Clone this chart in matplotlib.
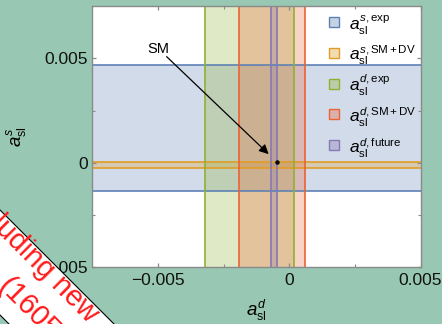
import matplotlib
matplotlib.use("Agg")
import matplotlib.pyplot as plt
import matplotlib._mathtext as _mt
from matplotlib.patches import Polygon, Rectangle
from matplotlib.ticker import FixedLocator

_mt.SHRINK_FACTOR = 0.66

# ---------------- data ----------------
as_exp = [-0.00136, 0.00469]      # a_sl^s experimental band (horizontal)
as_smdv = [-0.00025, 0.00003]     # a_sl^s SM+DV band (horizontal)
ad_exp = [-0.00321, 0.00019]      # a_sl^d experimental band (vertical)
ad_smdv = [-0.00192, 0.00061]     # a_sl^d SM+DV band (vertical)
ad_future = [-0.00070, -0.00045]  # a_sl^d future band (vertical)
sm_point = [-0.00046, 0.00002]    # SM prediction (a_sl^d, a_sl^s)

x_ticks = [-0.005, 0.0, 0.005]
x_ticklabels = ["\u22120.005", "0", "0.005"]
y_ticks = [-0.005, 0.0, 0.005]
y_ticklabels = ["\u22120.005", "0", "0.005"]
minor_ticks = [-0.0025, 0.0025]

legend_labels = [r"$a_{\mathrm{sl}}^{s,\mathrm{exp}}$",
                 r"$a_{\mathrm{sl}}^{s,\mathrm{SM+DV}}$",
                 r"$a_{\mathrm{sl}}^{d,\mathrm{exp}}$",
                 r"$a_{\mathrm{sl}}^{d,\mathrm{SM+DV}}$",
                 r"$a_{\mathrm{sl}}^{d,\mathrm{future}}$"]

# ---------------- style ----------------
plt.rcParams['font.family'] = ['Liberation Sans', 'DejaVu Sans']
plt.rcParams['mathtext.fontset'] = 'custom'
plt.rcParams['mathtext.rm'] = 'Liberation Sans'
plt.rcParams['mathtext.it'] = 'Liberation Sans:italic'
plt.rcParams['mathtext.bf'] = 'Liberation Sans:bold'

BG = '#98c8b3'
c_blue = '#5e81b5'
c_orange = '#e19c24'
c_green = '#8fb032'
c_red = '#eb6235'
c_purple = '#8778b3'
colors = [c_blue, c_orange, c_green, c_red, c_purple]
FA = 0.28
LW = 1.2

W, H = 442, 324
fig = plt.figure(figsize=(W / 100, H / 100), dpi=100, facecolor=BG)
L, R, T, B = 92.3, 420.6, 6.1, 267.1
ax = fig.add_axes([L / W, (H - B) / H, (R - L) / W, (B - T) / H])
ax.set_facecolor('white')
ax.set_xlim(-0.0075, 0.005)
ax.set_ylim(-0.005, 0.0075)

# horizontal bands
for band, c in [(as_exp, c_blue), (as_smdv, c_orange)]:
    ax.axhspan(band[0], band[1], facecolor=c, alpha=FA, lw=0, zorder=1)
    for v in band:
        ax.axhline(v, color=c, lw=LW, zorder=2)
# vertical bands
for band, c in [(ad_exp, c_green), (ad_smdv, c_red), (ad_future, c_purple)]:
    ax.axvspan(band[0], band[1], facecolor=c, alpha=FA, lw=0, zorder=1)
    for v in band:
        ax.axvline(v, color=c, lw=LW, zorder=2)

# SM point and arrow
ax.plot([sm_point[0]], [sm_point[1]], 'o', color='black', ms=2.2, zorder=5)
ax.annotate('', xy=(sm_point[0], sm_point[1]), xytext=(-0.00467, 0.00508),
            arrowprops=dict(arrowstyle='-|>', color='black', lw=0.9,
                            shrinkA=0, shrinkB=8.5, mutation_scale=14),
            zorder=5)
ax.text(-0.00499, 0.00545, 'SM', ha='center', va='center', fontsize=10.5,
        color='black', zorder=5)

# ticks and frame
for s in ax.spines.values():
    s.set_color('#8a8a8a')
    s.set_linewidth(1.0)
    s.set_zorder(6)
ax.set_xticks(x_ticks)
ax.set_xticklabels(x_ticklabels)
ax.set_yticks(y_ticks)
ax.set_yticklabels(y_ticklabels)
ax.xaxis.set_minor_locator(FixedLocator(minor_ticks))
ax.yaxis.set_minor_locator(FixedLocator(minor_ticks))
ax.tick_params(which='both', direction='in', top=True, right=True,
               color='#8a8a8a', labelsize=12.5, labelcolor='#111111')
ax.tick_params(which='major', length=3.2, width=0.9)
ax.tick_params(which='minor', length=2.2, width=0.8)
ax.tick_params(axis='x', pad=4)
ax.tick_params(axis='y', pad=3)

ax.set_xlabel(r"$a_{\mathrm{sl}}^{d}$", fontsize=13.5, labelpad=7)
ax.set_ylabel(r"$a_{\mathrm{sl}}^{s}$", fontsize=13.5, labelpad=4)

# legend (manual)
axw, axh = R - L, B - T
sq = 10.0
x0 = (333.7 - L) / axw
xt = (349.3 - L) / axw
for i, (lab, c) in enumerate(zip(legend_labels, colors)):
    yc_px = 22.0 + 30.8 * i
    yc = (B - yc_px) / axh
    ax.add_patch(Rectangle((x0 - sq / 2 / axw, yc - sq / 2 / axh), sq / axw, sq / axh,
                           transform=ax.transAxes, facecolor=c, alpha=0.35,
                           lw=0, zorder=7))
    ax.add_patch(Rectangle((x0 - sq / 2 / axw, yc - sq / 2 / axh), sq / axw, sq / axh,
                           transform=ax.transAxes, facecolor='none', edgecolor=c,
                           lw=1.0, zorder=7))
    ax.text(xt, yc - 8.0 / axh, lab, transform=ax.transAxes, ha='left',
            va='baseline', fontsize=12.5, color='black', zorder=8)

# diagonal banner in the bottom-left corner (figure pixels, y downward)
def fp(x, y):
    return (x / W, (H - y) / H)

poly = [fp(-100, 110), fp(200, 410), fp(95, 410), fp(-100, 215)]
fig.patches.append(Polygon(poly, closed=True, transform=fig.transFigure,
                           facecolor='white', edgecolor='black', lw=0.8,
                           zorder=20))
fig.text(*fp(88.5, 323.5), "Including new", transform=fig.transFigure,
         rotation=-45, rotation_mode='anchor', ha='right', va='baseline',
         fontsize=21, color='#ff1a1a', zorder=21)
fig.text(*fp(-4, 288), "(1605", transform=fig.transFigure,
         rotation=-45, rotation_mode='anchor', ha='left', va='baseline',
         fontsize=21, color='#ff1a1a', zorder=21)

fig.savefig('out.png', dpi=100, facecolor=BG)
